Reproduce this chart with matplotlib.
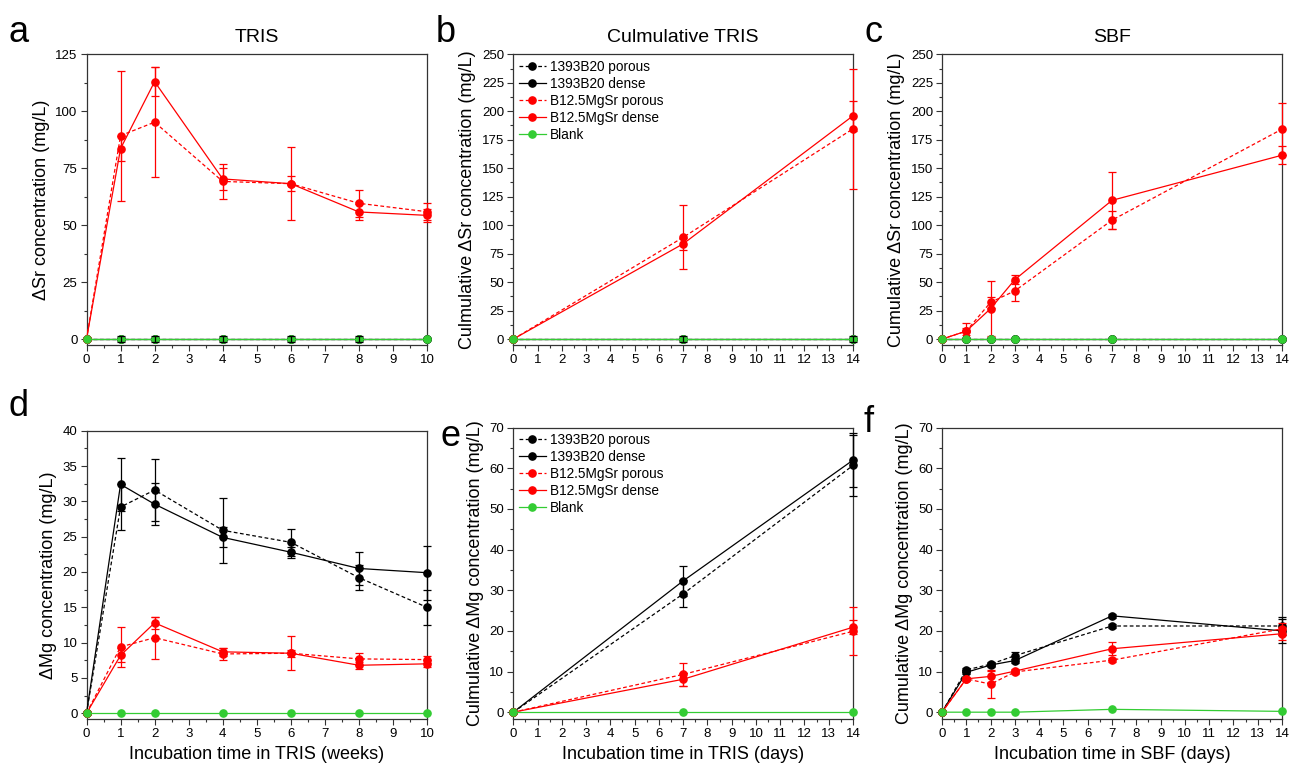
import matplotlib
matplotlib.use("Agg")
import matplotlib.pyplot as plt
from matplotlib.ticker import MultipleLocator
from matplotlib.lines import Line2D

plt.rcParams['font.family'] = ['Liberation Sans', 'DejaVu Sans']

# ---------------- data ----------------
labels = ["1393B20 porous", "1393B20 dense", "B12.5MgSr porous", "B12.5MgSr dense", "Blank"]

# Panel a: Sr, TRIS (weeks)
a_x = [0, 1, 2, 4, 6, 8, 10]
a_b12_por = [0, 89.3, 95.2, 69.2, 68.2, 59.6, 55.9]
a_b12_por_err = [0, 28.5, 24.2, 7.5, 16.0, 5.8, 3.8]
a_b12_den = [0, 83.6, 113.0, 70.3, 68.2, 55.8, 54.3]
a_b12_den_err = [0, 5.5, 6.5, 4.8, 3.2, 3.5, 3.0]
a_1393_por = [0, 0, 0, 0, 0, 0, 0]
a_1393_den = [0, 0, 0, 0, 0, 0, 0]
a_1393_err = [0, 1.2, 1.2, 1.2, 1.2, 1.2, 0]
a_blank = [0, 0, 0, 0, 0, 0, 0]

# Panel b: cumulative Sr, TRIS (days)
b_x = [0, 7, 14]
b_b12_por = [0, 89.3, 184.6]
b_b12_por_err = [0, 28.0, 52.5]
b_b12_den = [0, 83.6, 196.0]
b_b12_den_err = [0, 5.0, 13.0]
b_1393_por = [0, 0, 0]
b_1393_den = [0, 0, 0]
b_1393_err = [0, 2.4, 2.4]
b_blank = [0, 0, 0]

# Panel c: cumulative Sr, SBF (days)
c_x = [0, 1, 2, 3, 7, 14]
c_b12_por = [0, 7.0, 32.3, 42.3, 104.4, 184.3]
c_b12_por_err = [0, 7.5, 5.0, 8.5, 7.6, 23.0]
c_b12_den = [0, 7.0, 26.7, 52.2, 121.8, 161.4]
c_b12_den_err = [0, 3.0, 24.0, 4.0, 25.0, 8.0]
c_1393_por = [0, 0, 0, 0, 0, 0]
c_1393_den = [0, 0, 0, 0, 0, 0]
c_blank = [0, 0, 0, 0, 0, 0]

# Panel d: Mg, TRIS (weeks)
d_x = [0, 1, 2, 4, 6, 8, 10]
d_1393_por = [0, 29.2, 31.6, 25.9, 24.2, 19.2, 15.0]
d_1393_por_err = [0, 3.3, 4.4, 4.6, 1.9, 1.8, 2.5]
d_1393_den = [0, 32.4, 29.6, 24.9, 22.8, 20.5, 19.9]
d_1393_den_err = [0, 3.7, 3.0, 1.4, 0.8, 2.4, 3.8]
d_b12_por = [0, 9.4, 10.7, 8.4, 8.5, 7.7, 7.6]
d_b12_por_err = [0, 2.8, 3.0, 0.9, 2.4, 0.9, 0.5]
d_b12_den = [0, 8.2, 12.8, 8.7, 8.5, 6.8, 7.0]
d_b12_den_err = [0, 1.0, 0.9, 0.6, 0.5, 0.5, 0.5]
d_blank = [0, 0, 0, 0, 0, 0, 0]

# Panel e: cumulative Mg, TRIS (days)
e_x = [0, 7, 14]
e_1393_por = [0, 29.1, 60.7]
e_1393_por_err = [0, 3.3, 7.6]
e_1393_den = [0, 32.3, 62.0]
e_1393_den_err = [0, 3.7, 6.6]
e_b12_por = [0, 9.3, 19.9]
e_b12_por_err = [0, 2.8, 5.9]
e_b12_den = [0, 8.1, 20.9]
e_b12_den_err = [0, 1.6, 1.7]
e_blank = [0, 0, 0]

# Panel f: cumulative Mg, SBF (days)
f_x = [0, 1, 2, 3, 7, 14]
f_1393_por = [0, 10.4, 11.8, 13.9, 21.2, 21.2]
f_1393_por_err = [0, 0.5, 0.5, 0.8, 0.6, 2.2]
f_1393_den = [0, 9.8, 11.6, 12.7, 23.7, 20.0]
f_1393_den_err = [0, 0.5, 0.6, 0.5, 0.5, 3.0]
f_b12_por = [0, 8.2, 6.9, 9.9, 12.8, 20.5]
f_b12_por_err = [0, 0.5, 3.5, 0.5, 0.5, 1.5]
f_b12_den = [0, 8.2, 8.8, 10.1, 15.6, 19.3]
f_b12_den_err = [0, 0.5, 1.3, 0.5, 1.6, 1.6]
f_blank = [0, 0, 0, 0, 0.7, 0.2]

# ---------------- style ----------------
BLACK = "#000000"
RED = "#FF0000"
GREEN = "#33CC33"
DASH = (0, (3, 2))
MS = 5.2
LW = 0.9
TICK_FS = 9.5
LABEL_FS = 13
TITLE_FS = 14
LETTER_FS = 26

fig = plt.figure(figsize=(12.89, 7.72), dpi=100)
W, H = 1289.0, 772.0


def make_ax(left, right, top, bottom):
    return fig.add_axes([left / W, 1 - bottom / H, (right - left) / W, (bottom - top) / H])


def errbars(ax, x, y, err, color, z):
    pts = [(xi, yi, ei) for xi, yi, ei in zip(x, y, err) if ei > 0]
    if not pts:
        return
    xs, ys, es = zip(*pts)
    _, caps, bars = ax.errorbar(xs, ys, yerr=es, color=color, ls='none', elinewidth=LW,
                                capsize=2.6, capthick=LW, zorder=z)
    for c in caps:
        c.set_clip_on(False)
    for b in bars:
        b.set_clip_on(False)


def series(ax, x, y, err, color, ls, z=3):
    if err is not None:
        errbars(ax, x, y, err, color, z)
    ax.plot(x, y, color=color, ls=ls, lw=LW, marker='o', ms=MS, zorder=z, clip_on=False)


def style(ax, xmax, xmaj, ymin, ymax, ymaj):
    ax.set_xlim(0, xmax)
    ax.set_ylim(ymin, ymax)
    ax.xaxis.set_major_locator(MultipleLocator(xmaj))
    ax.xaxis.set_minor_locator(MultipleLocator(xmaj / 2))
    ax.yaxis.set_major_locator(MultipleLocator(ymaj))
    ax.yaxis.set_minor_locator(MultipleLocator(ymaj / 2))
    ax.tick_params(which='both', direction='out', top=False, right=False,
                   labelsize=TICK_FS, width=0.8, color='#333333')
    ax.tick_params(which='major', length=4.5, pad=2)
    ax.tick_params(which='minor', length=2.5)
    for s in ax.spines.values():
        s.set_linewidth(0.9)
        s.set_color('#333333')


def legend(ax):
    handles = [
        Line2D([], [], color=BLACK, ls=DASH, lw=LW, marker='o', ms=MS),
        Line2D([], [], color=BLACK, ls='-', lw=LW, marker='o', ms=MS),
        Line2D([], [], color=RED, ls=DASH, lw=LW, marker='o', ms=MS),
        Line2D([], [], color=RED, ls='-', lw=LW, marker='o', ms=MS),
        Line2D([], [], color=GREEN, ls='-', lw=LW, marker='o', ms=MS),
    ]
    ax.legend(handles, labels, loc='upper left', frameon=False, fontsize=9.8,
              handlelength=2.0, handletextpad=0.3, labelspacing=0.22,
              borderaxespad=0.2, borderpad=0.2)


# ---------- a ----------
ax = make_ax(86.5, 427, 54.3, 345)
series(ax, a_x, a_1393_por, None, BLACK, DASH, 2)
series(ax, a_x, a_1393_den, None, BLACK, '-', 2)
series(ax, a_x, a_b12_por, a_b12_por_err, RED, DASH)
series(ax, a_x, a_b12_den, a_b12_den_err, RED, '-')
series(ax, a_x, a_blank, None, GREEN, '-', 4)
errbars(ax, a_x, a_1393_den, a_1393_err, BLACK, 5)
style(ax, 10, 1, -2.6, 125, 25)
ax.set_ylabel("ΔSr concentration (mg/L)", fontsize=LABEL_FS)
ax.set_title("TRIS", fontsize=TITLE_FS, pad=9)

# ---------- b ----------
ax = make_ax(513.3, 853, 54.3, 345)
series(ax, b_x, b_1393_por, None, BLACK, DASH, 2)
series(ax, b_x, b_1393_den, None, BLACK, '-', 2)
series(ax, b_x, b_b12_por, b_b12_por_err, RED, DASH)
series(ax, b_x, b_b12_den, b_b12_den_err, RED, '-')
series(ax, b_x, b_blank, None, GREEN, '-', 4)
errbars(ax, b_x, b_1393_den, b_1393_err, BLACK, 5)
style(ax, 14, 1, -5.2, 250, 25)
ax.set_ylabel("Culmulative ΔSr concentration (mg/L)", fontsize=LABEL_FS)
ax.set_title("Culmulative TRIS", fontsize=TITLE_FS, pad=9)
legend(ax)

# ---------- c ----------
ax = make_ax(942, 1282, 54.3, 345)
series(ax, c_x, c_1393_por, None, BLACK, DASH, 2)
series(ax, c_x, c_1393_den, None, BLACK, '-', 2)
series(ax, c_x, c_b12_por, c_b12_por_err, RED, DASH)
series(ax, c_x, c_b12_den, c_b12_den_err, RED, '-')
series(ax, c_x, c_blank, None, GREEN, '-', 4)
style(ax, 14, 1, -5.2, 250, 25)
ax.set_ylabel("Cumulative ΔSr concentration (mg/L)", fontsize=LABEL_FS)
ax.set_title("SBF", fontsize=TITLE_FS, pad=9)

# ---------- d ----------
ax = make_ax(86.5, 427, 430.7, 719.3)
series(ax, d_x, d_1393_por, d_1393_por_err, BLACK, DASH)
series(ax, d_x, d_1393_den, d_1393_den_err, BLACK, '-')
series(ax, d_x, d_b12_por, d_b12_por_err, RED, DASH)
series(ax, d_x, d_b12_den, d_b12_den_err, RED, '-')
series(ax, d_x, d_blank, None, GREEN, '-', 4)
style(ax, 10, 1, -0.85, 40, 5)
ax.set_ylabel("ΔMg concentration (mg/L)", fontsize=LABEL_FS)
ax.set_xlabel("Incubation time in TRIS (weeks)", fontsize=LABEL_FS)

# ---------- e ----------
ax = make_ax(513.3, 853, 427.6, 719.3)
series(ax, e_x, e_1393_por, e_1393_por_err, BLACK, DASH)
series(ax, e_x, e_1393_den, e_1393_den_err, BLACK, '-')
series(ax, e_x, e_b12_por, e_b12_por_err, RED, DASH)
series(ax, e_x, e_b12_den, e_b12_den_err, RED, '-')
series(ax, e_x, e_blank, None, GREEN, '-', 4)
style(ax, 14, 1, -1.75, 70, 10)
ax.set_ylabel("Culmulative ΔMg concentration (mg/L)", fontsize=LABEL_FS)
ax.set_xlabel("Incubation time in TRIS (days)", fontsize=LABEL_FS)
legend(ax)

# ---------- f ----------
ax = make_ax(942, 1282, 427.6, 719.3)
series(ax, f_x, f_1393_por, f_1393_por_err, BLACK, DASH)
series(ax, f_x, f_1393_den, f_1393_den_err, BLACK, '-')
series(ax, f_x, f_b12_por, f_b12_por_err, RED, DASH)
series(ax, f_x, f_b12_den, f_b12_den_err, RED, '-')
series(ax, f_x, f_blank, None, GREEN, '-', 4)
style(ax, 14, 1, -1.75, 70, 10)
ax.set_ylabel("Cumulative ΔMg concentration (mg/L)", fontsize=LABEL_FS)
ax.set_xlabel("Incubation time in SBF (days)", fontsize=LABEL_FS)

# panel letters
for letter, x, y in [("a", 9, 42), ("b", 436, 42), ("c", 864, 42),
                     ("d", 9, 416), ("e", 440, 446), ("f", 864, 432)]:
    fig.text(x / W, 1 - y / H, letter, fontsize=LETTER_FS, ha='left', va='baseline')

fig.savefig("out.png", dpi=100)
